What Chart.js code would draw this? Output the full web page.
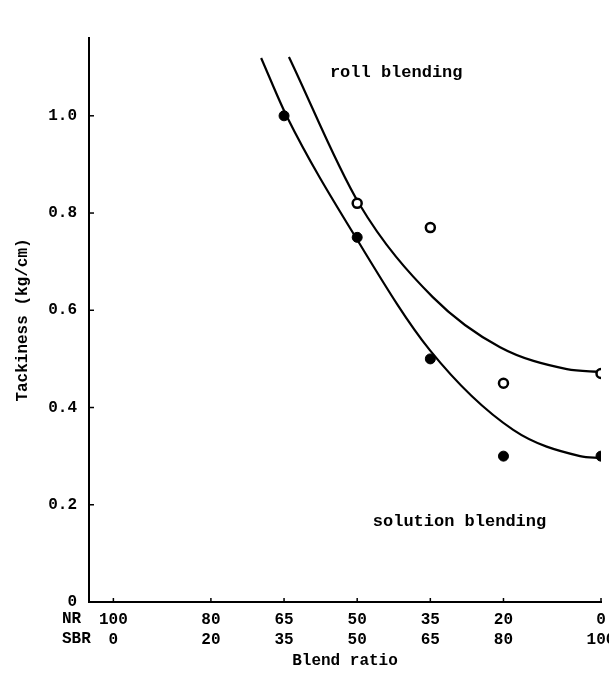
<!DOCTYPE html>
<html>
<head>
<meta charset="utf-8">
<script src="https://cdn.jsdelivr.net/npm/chart.js@4"></script>
<style>
  html, body { margin: 0; padding: 0; background: #fff; }
  #wrap { width: 609px; height: 675px; }
</style>
</head>
<body>
<div id="wrap"><canvas id="tackChart" width="609" height="675"></canvas></div>
<script>
// blend ratio ticks (NR content on the axis, SBR is the complement)
const nrTicks = [100, 80, 65, 50, 35, 20, 0];
const sbrTicks = [0, 20, 35, 50, 65, 80, 100];
const yTicks = [0, 0.2, 0.4, 0.6, 0.8, 1.0];

// measured tackiness
const solutionNR = [65, 50, 35, 20, 0];
const solutionTack = [1.0, 0.75, 0.5, 0.3, 0.3];
const rollNR = [50, 35, 20, 0];
const rollTack = [0.82, 0.77, 0.45, 0.47];

// hand-fitted curves through each set
const solutionCurveNR = [69.7, 64.4, 50.0, 35.1, 18.0, 4.3, 0];
const solutionCurveTack = [1.119, 0.998, 0.745, 0.518, 0.354, 0.300, 0.296];
const rollCurveNR = [64.0, 49.6, 34.5, 20.7, 7.0, 0];
const rollCurveTack = [1.121, 0.819, 0.627, 0.524, 0.479, 0.473];

const FONT = "'Liberation Mono', 'DejaVu Sans Mono', monospace";

function pts(xs, ys) {
    return xs.map((x, i) => ({ x: x, y: ys[i] }));
}

// curve labels, placed in data units
const curveLabels = [
    { text: "roll blending", x: 55.6, y: 1.088 },
    { text: "solution blending", x: 46.8, y: 0.166 }
];

const extras = {
    id: "extras",
    afterDraw(chart) {
        const ctx = chart.ctx;
        const xs = chart.scales.x, ys = chart.scales.y;
        const area = chart.chartArea;
        ctx.save();
        ctx.strokeStyle = "#000";
        ctx.lineWidth = 1.5;
        // small inward tick marks
        yTicks.forEach(v => {
            if (v === 0) return;
            const py = ys.getPixelForValue(v);
            ctx.beginPath();
            ctx.moveTo(area.left, py);
            ctx.lineTo(area.left + 5, py);
            ctx.stroke();
        });
        nrTicks.forEach(v => {
            const px = xs.getPixelForValue(v);
            ctx.beginPath();
            ctx.moveTo(px, area.bottom);
            ctx.lineTo(px, area.bottom - 4);
            ctx.stroke();
        });
        // row names under the axis
        ctx.fillStyle = "#000";
        ctx.font = "bold 16px " + FONT;
        ctx.textBaseline = "middle";
        ctx.textAlign = "left";
        ctx.fillText("NR", 62, 619);
        ctx.fillText("SBR", 62, 639);
        // curve labels
        ctx.font = "bold 17px " + FONT;
        curveLabels.forEach(l => {
            ctx.fillText(l.text, xs.getPixelForValue(l.x), ys.getPixelForValue(l.y));
        });
        ctx.restore();
    }
};

const curveStyle = {
    showLine: true,
    pointRadius: 0,
    borderColor: "#000",
    borderWidth: 2.2,
    cubicInterpolationMode: "monotone"
};

new Chart(document.getElementById("tackChart").getContext("2d"), {
    type: "scatter",
    data: {
        datasets: [
            {
                label: "solution blending",
                data: pts(solutionNR, solutionTack),
                pointRadius: 5,
                pointBackgroundColor: "#000",
                pointBorderColor: "#000",
                pointBorderWidth: 1
            },
            {
                label: "roll blending",
                data: pts(rollNR, rollTack),
                pointRadius: 4.5,
                pointBackgroundColor: "#fff",
                pointBorderColor: "#000",
                pointBorderWidth: 2.5
            },
            Object.assign({ label: "solution curve", data: pts(solutionCurveNR, solutionCurveTack) }, curveStyle),
            Object.assign({ label: "roll curve", data: pts(rollCurveNR, rollCurveTack) }, curveStyle)
        ]
    },
    options: {
        responsive: false,
        animation: false,
        layout: { padding: { top: 38, right: 8, left: 0, bottom: 0 } },
        plugins: {
            legend: { display: false },
            tooltip: { enabled: false }
        },
        scales: {
            x: {
                type: "linear",
                reverse: true,
                min: 0,
                max: 105,
                grid: { display: false },
                border: { color: "#000", width: 2 },
                afterBuildTicks: s => { s.ticks = nrTicks.map(v => ({ value: v })); },
                afterFit: s => { s.height = 73; s.paddingLeft = 0; s.paddingRight = 0; },
                ticks: {
                    color: "#000",
                    padding: 0,
                    maxRotation: 0,
                    autoSkip: false,
                    font: { family: FONT, size: 16, weight: "bold", lineHeight: 1.25 },
                    callback: v => {
                        const i = nrTicks.indexOf(v);
                        return [String(nrTicks[i]), String(sbrTicks[i])];
                    }
                },
                title: {
                    display: true,
                    text: "Blend ratio",
                    color: "#000",
                    padding: { top: 0, bottom: 4 },
                    font: { family: FONT, size: 16, weight: "bold" }
                }
            },
            y: {
                min: 0,
                max: 1.16,
                grid: { display: false },
                border: { color: "#000", width: 2 },
                afterBuildTicks: s => { s.ticks = yTicks.map(v => ({ value: v })); },
                afterFit: s => { s.width = 89; },
                ticks: {
                    color: "#000",
                    padding: 4,
                    font: { family: FONT, size: 16, weight: "bold" },
                    callback: v => (v === 0 ? "0" : v.toFixed(1))
                },
                title: {
                    display: true,
                    text: "Tackiness (kg/cm)",
                    color: "#000",
                    padding: { top: 13, bottom: 0 },
                    font: { family: FONT, size: 16, weight: "bold" }
                }
            }
        }
    },
    plugins: [extras]
});
</script>
</body>
</html>
